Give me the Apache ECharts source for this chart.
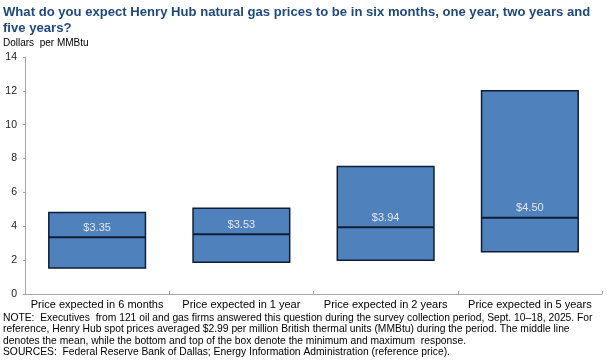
<!DOCTYPE html>
<html>
<head>
<meta charset="utf-8">
<script src="https://cdn.jsdelivr.net/npm/echarts@6/dist/echarts.min.js"></script>
<style>
html,body{margin:0;padding:0;background:#fff;}
#chart{width:607px;height:362px;}
</style>
</head>
<body>
<div id="chart"></div>
<script>
var categories = ['Price expected in 6 months', 'Price expected in 1 year', 'Price expected in 2 years', 'Price expected in 5 years'];
var minValues = [1.53, 1.88, 2.0, 2.49];
var meanValues = [3.35, 3.53, 3.94, 4.50];
var maxValues = [4.82, 5.06, 7.53, 12.0];
var yTicks = [0, 2, 4, 6, 8, 10, 12, 14];

var boxData = categories.map(function (c, i) { return [i, minValues[i], meanValues[i], maxValues[i]]; });

var FONT = '"Liberation Sans", Arial, sans-serif';

function renderBox(params, api) {
  var i = api.value(0);
  var pMin = api.coord([i, api.value(1)]);
  var pMean = api.coord([i, api.value(2)]);
  var pMax = api.coord([i, api.value(3)]);
  var w = api.size([1, 0])[0] * 0.67;
  var x0 = pMin[0] - w / 2;
  return {
    type: 'group',
    children: [
      {
        type: 'rect',
        shape: { x: x0, y: pMax[1], width: w, height: pMin[1] - pMax[1] },
        style: { fill: '#4f81bd', stroke: '#0d1e36', lineWidth: 1.5 }
      },
      {
        type: 'line',
        shape: { x1: x0, y1: pMean[1], x2: x0 + w, y2: pMean[1] },
        style: { stroke: '#0d1e36', lineWidth: 2 }
      },
      {
        type: 'text',
        style: {
          text: '$' + api.value(2).toFixed(2),
          x: pMean[0], y: pMean[1] - 4,
          textAlign: 'center', textVerticalAlign: 'bottom',
          fill: '#e6e6e6', font: '11px ' + FONT
        }
      }
    ]
  };
}

var chart = echarts.init(document.getElementById('chart'), null, { renderer: 'canvas' });
chart.setOption({
  animation: false,
  backgroundColor: '#ffffff',
  title: [
    {
      text: 'What do you expect Henry Hub natural gas prices to be in six months, one year, two years and\nfive years?',
      left: 3, top: 4, padding: 0,
      textStyle: { fontFamily: FONT, fontSize: 13.1, fontWeight: 'bold', color: '#1f497d', lineHeight: 16 }
    },
    {
      text: 'Dollars  per MMBtu',
      left: 3, top: 37, padding: 0,
      textStyle: { fontFamily: FONT, fontSize: 10, fontWeight: 'normal', color: '#000', lineHeight: 12 }
    },
    {
      text: 'NOTE:  Executives  from 121 oil and gas firms answered this question during the survey collection period, Sept. 10\u201318, 2025. For\nreference, Henry Hub spot prices averaged $2.99 per million British thermal units (MMBtu) during the period. The middle line\ndenotes the mean, while the bottom and top of the box denote the minimum and maximum  response.\nSOURCES:  Federal Reserve Bank of Dallas; Energy Information Administration (reference price).',
      left: 3, top: 312, padding: 0,
      textStyle: { fontFamily: FONT, fontSize: 10.3, fontWeight: 'normal', color: '#000', lineHeight: 11.6 }
    }
  ],
  grid: { left: 25, right: 5, top: 57, bottom: 68, containLabel: false },
  xAxis: {
    type: 'category',
    data: categories,
    boundaryGap: true,
    axisLine: { show: true, lineStyle: { color: '#a6a6a6', width: 1 } },
    axisTick: { show: true, length: 3, inside: true, lineStyle: { color: '#a6a6a6' } },
    axisLabel: { fontFamily: FONT, fontSize: 11, color: '#000', margin: 5, interval: 0 },
    splitLine: { show: false }
  },
  yAxis: {
    type: 'value',
    min: yTicks[0], max: yTicks[yTicks.length - 1], interval: 2,
    axisLine: { show: true, lineStyle: { color: '#a6a6a6', width: 1 } },
    axisTick: { show: true, length: 2, lineStyle: { color: '#a6a6a6' } },
    axisLabel: { fontFamily: FONT, fontSize: 10.5, color: '#222', margin: 8 },
    splitLine: { show: false }
  },
  series: [
    {
      name: 'box', type: 'custom', data: boxData,
      encode: { x: 0, y: [1, 2, 3] },
      renderItem: renderBox, silent: true
    }
  ]
});
</script>
</body>
</html>
